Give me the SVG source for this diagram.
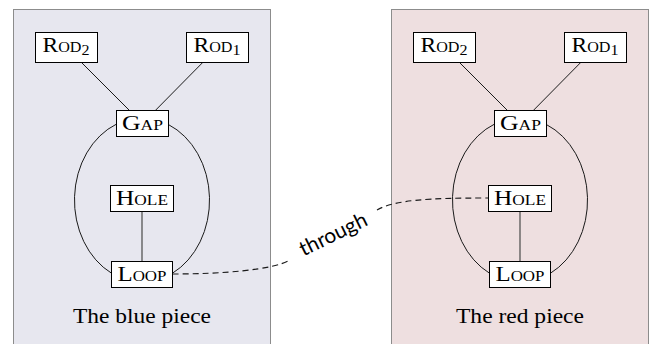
<svg xmlns="http://www.w3.org/2000/svg" width="650" height="344" viewBox="0 0 650 344">
<style>
.panel{stroke:#8c8c8c;stroke-width:1}
.box{fill:#fff;stroke:#000;stroke-width:1}
.lbl{font-family:"Liberation Serif",serif;font-size:20.5px;font-variant:small-caps;fill:#000;text-anchor:middle}
.cap{font-family:"Liberation Serif",serif;font-size:20.5px;fill:#000;text-anchor:middle}
.edge{fill:none;stroke:#1a1a1a;stroke-width:1}
.stem{fill:none;stroke:#555;stroke-width:1.3}
.dash{fill:none;stroke:#1a1a1a;stroke-width:1.15;stroke-dasharray:6 4}
.sans{font-family:Lato,"DejaVu Sans",sans-serif;font-size:21px;fill:#000;text-anchor:middle}
</style>
<rect class="panel" x="13.5" y="9.5" width="257" height="345" fill="#e7e7ef"/>
<rect class="panel" x="391.5" y="9.5" width="257" height="345" fill="#eedfe0"/>
<text class="cap" x="142" y="323" textLength="138" lengthAdjust="spacingAndGlyphs">The blue piece</text>
<text class="cap" x="520" y="323" textLength="128" lengthAdjust="spacingAndGlyphs">The red piece</text>
<g id="connectors">
  <line class="edge" x1="81.5" y1="62.5" x2="129.5" y2="110.5"/>
  <line class="edge" x1="202.7" y1="62.5" x2="155.3" y2="110.5"/>
  <path class="edge" d="M116.5,124.1 A67.5,82 0 0 0 111.5,273.2"/>
  <path class="edge" d="M168.5,124.6 A67.5,82 0 0 1 172.5,273.2"/>
  <line class="stem" x1="142" y1="211.5" x2="142" y2="261.5"/>
  <line class="edge" x1="459.5" y1="62.5" x2="507.5" y2="110.5"/>
  <line class="edge" x1="580.7" y1="62.5" x2="533.3" y2="110.5"/>
  <path class="edge" d="M494.5,124.1 A67.5,82 0 0 0 489.5,273.2"/>
  <path class="edge" d="M546.5,124.6 A67.5,82 0 0 1 550.5,273.2"/>
  <line class="stem" x1="520" y1="211.5" x2="520" y2="261.5"/>
  <path class="dash" d="M172.5,274 C222.5,274 272.7,270 290,260 M377,210 C394.3,200 428,198 488.5,198"/>
  <text class="sans" transform="translate(333.5,235) rotate(-26)" dy="0.3em">through</text>
</g>
<g id="blue-rod2"><rect class="box" x="35.5" y="32.5" width="62" height="30"/><text class="lbl" x="66" y="51.5" textLength="47" lengthAdjust="spacingAndGlyphs">Rod<tspan font-size="14" dy="3">2</tspan></text></g>
<g id="blue-rod1"><rect class="box" x="186.5" y="32.5" width="62" height="30"/><text class="lbl" x="217" y="51.5" textLength="47" lengthAdjust="spacingAndGlyphs">Rod<tspan font-size="14" dy="3">1</tspan></text></g>
<g id="blue-gap"><rect class="box" x="116.5" y="110.5" width="52" height="26"/><text class="lbl" x="142.5" y="130" textLength="41" lengthAdjust="spacingAndGlyphs">Gap</text></g>
<g id="blue-hole"><rect class="box" x="110.5" y="185.5" width="63" height="26"/><text class="lbl" x="142" y="205" textLength="52" lengthAdjust="spacingAndGlyphs">Hole</text></g>
<g id="blue-loop"><rect class="box" x="111.5" y="261.5" width="61" height="26"/><text class="lbl" x="142" y="281" textLength="49" lengthAdjust="spacingAndGlyphs">Loop</text></g>
<g id="red-rod2"><rect class="box" x="413.5" y="32.5" width="62" height="30"/><text class="lbl" x="444" y="51.5" textLength="47" lengthAdjust="spacingAndGlyphs">Rod<tspan font-size="14" dy="3">2</tspan></text></g>
<g id="red-rod1"><rect class="box" x="564.5" y="32.5" width="62" height="30"/><text class="lbl" x="595" y="51.5" textLength="47" lengthAdjust="spacingAndGlyphs">Rod<tspan font-size="14" dy="3">1</tspan></text></g>
<g id="red-gap"><rect class="box" x="494.5" y="110.5" width="52" height="26"/><text class="lbl" x="520.5" y="130" textLength="41" lengthAdjust="spacingAndGlyphs">Gap</text></g>
<g id="red-hole"><rect class="box" x="488.5" y="185.5" width="63" height="26"/><text class="lbl" x="520" y="205" textLength="52" lengthAdjust="spacingAndGlyphs">Hole</text></g>
<g id="red-loop"><rect class="box" x="489.5" y="261.5" width="61" height="26"/><text class="lbl" x="520" y="281" textLength="49" lengthAdjust="spacingAndGlyphs">Loop</text></g>
</svg>
